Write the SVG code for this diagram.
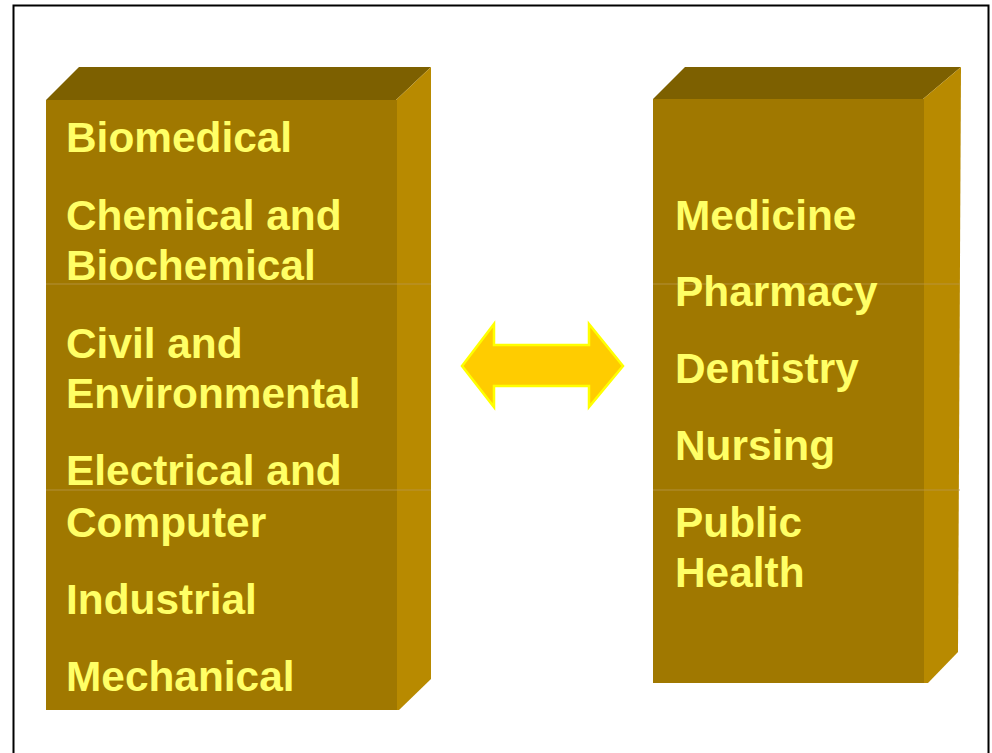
<svg xmlns="http://www.w3.org/2000/svg" width="992" height="753" viewBox="0 0 992 753">
<style>
.front{fill:#A07800}
.top{fill:#7D6000}
.side{fill:#B88A00}
.seam{stroke:#B8974A;stroke-width:1;opacity:0.8}
.lbl{font-family:"Liberation Sans",Arial,sans-serif;font-weight:bold;font-size:42.4px;fill:#FFFF66}
</style>
<rect x="0" y="0" width="992" height="753" fill="#FFFFFF"/>
<rect id="frame" x="13.5" y="5.5" width="975" height="760" fill="none" stroke="#000000" stroke-width="2"/>
<g id="left-box">
<polygon class="top" points="46,100 79,67 431,67 396,100"/>
<polygon class="side" points="396,100 431,67 431,679 399,710 396,710"/>
<rect class="front" x="46" y="100" width="351" height="610"/>
<line class="seam" x1="46" y1="284" x2="431" y2="284"/>
<line class="seam" x1="46" y1="490" x2="431" y2="490"/>
<text class="lbl" x="66" y="152">Biomedical</text>
<text class="lbl" x="66" y="230">Chemical and</text>
<text class="lbl" x="66" y="280">Biochemical</text>
<text class="lbl" x="66" y="358">Civil and</text>
<text class="lbl" x="66" y="408">Environmental</text>
<text class="lbl" x="66" y="485">Electrical and</text>
<text class="lbl" x="66" y="537">Computer</text>
<text class="lbl" x="66" y="614">Industrial</text>
<text class="lbl" x="66" y="691">Mechanical</text>
</g>
<g id="right-box">
<polygon class="top" points="653,99 685,67 961,67 923,99"/>
<polygon class="side" points="923,99 961,67 958,652 928,683 923,683"/>
<rect class="front" x="653" y="99" width="271" height="584"/>
<line class="seam" x1="653" y1="284" x2="960" y2="284"/>
<line class="seam" x1="653" y1="490" x2="960" y2="490"/>
<text class="lbl" x="675" y="230">Medicine</text>
<text class="lbl" x="675" y="306">Pharmacy</text>
<text class="lbl" x="675" y="383">Dentistry</text>
<text class="lbl" x="675" y="460">Nursing</text>
<text class="lbl" x="675" y="537">Public</text>
<text class="lbl" x="675" y="587">Health</text>
</g>
<g id="connectors">
<polygon points="462,366 494,324 494,345 589,345 589,324 623,366 589,407 589,386 494,386 494,407" fill="#FFCC00" stroke="#FFFF00" stroke-width="2.5" stroke-linejoin="miter"/>
</g>
</svg>
